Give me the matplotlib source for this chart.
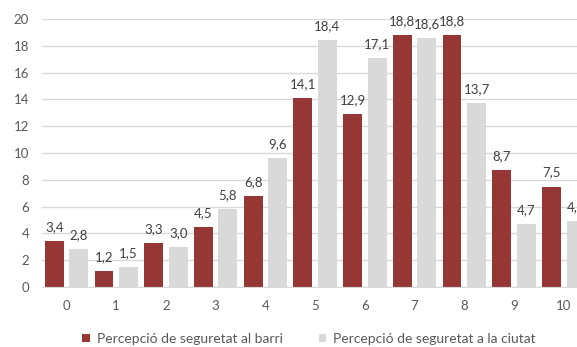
import numpy as np
import matplotlib.pyplot as plt

plt.rcParams['font.family'] = ['Lato', 'DejaVu Sans']

categories = ['0', '1', '2', '3', '4', '5', '6', '7', '8', '9', '10']
barri = [3.4, 1.2, 3.3, 4.5, 6.8, 14.1, 12.9, 18.8, 18.8, 8.7, 7.5]
ciutat = [2.8, 1.5, 3.0, 5.8, 9.6, 18.4, 17.1, 18.6, 13.7, 4.7, 4.9]
series_names = ['Percepció de seguretat al barri', 'Percepció de seguretat a la ciutat']

RED = '#953735'
GREY = '#D9D9D9'
TXT = '#595959'

fig = plt.figure(figsize=(5.77, 3.47), dpi=100)
# the plot area runs a little past the right edge of the figure
ax = fig.add_axes([41.6 / 577, 60 / 347, 547 / 577, 268 / 347])

x = np.arange(len(categories))
w = 0.38
b1 = ax.bar(x - 0.246, barri, w, color=RED, label=series_names[0], zorder=2)
b2 = ax.bar(x + 0.246, ciutat, w, color=GREY, label=series_names[1], zorder=2)

for bars, vals in ((b1, barri), (b2, ciutat)):
    for r, v in zip(bars, vals):
        ax.annotate(f'{v:.1f}'.replace('.', ','),
                    (r.get_x() + r.get_width() / 2, v),
                    xytext=(0, 10), textcoords='offset points',
                    ha='center', va='center', fontsize=9.5, color='#404040')

ax.set_xlim(-0.5, 10.5)
ax.set_ylim(0, 20)
ax.set_yticks(range(0, 21, 2))
ax.set_xticks(x)
ax.set_xticklabels(categories)
ax.grid(axis='y', color=GREY, linewidth=1, zorder=0)
ax.tick_params(axis='both', length=0, colors=TXT, labelsize=9.5)
ax.tick_params(axis='y', pad=9)
ax.tick_params(axis='x', pad=9)
for s in ('top', 'right', 'left'):
    ax.spines[s].set_visible(False)
ax.spines['bottom'].set_color(GREY)

fig.legend(loc='center', bbox_to_anchor=(309 / 577, 1 - 339 / 347), ncol=2,
           frameon=False, fontsize=10, labelcolor=TXT,
           handlelength=0.55, handleheight=0.55, handletextpad=0.5,
           columnspacing=2.6)

fig.savefig('out.png', dpi=100)
